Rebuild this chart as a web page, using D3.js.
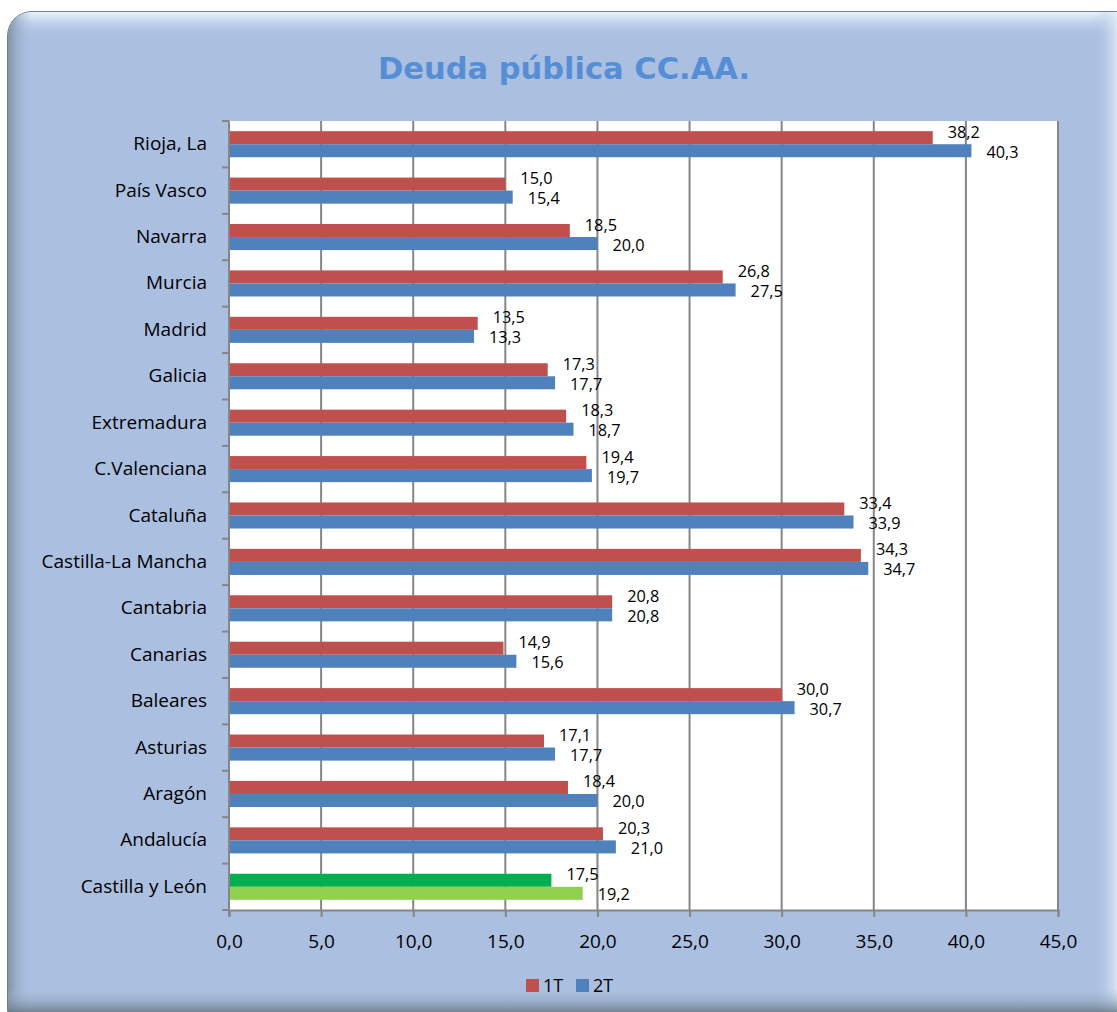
<!DOCTYPE html>
<html><head><meta charset="utf-8">
<script src="https://cdn.jsdelivr.net/npm/d3@7"></script>
<style>html,body{margin:0;padding:0;background:#fff;}svg{display:block;}</style>
</head><body>
<script>
const categories = ["Rioja, La","País Vasco","Navarra","Murcia","Madrid","Galicia","Extremadura","C.Valenciana","Cataluña","Castilla-La Mancha","Cantabria","Canarias","Baleares","Asturias","Aragón","Andalucía","Castilla y León"];
const series1T = [38.2,15.0,18.5,26.8,13.5,17.3,18.3,19.4,33.4,34.3,20.8,14.9,30.0,17.1,18.4,20.3,17.5];
const series2T = [40.3,15.4,20.0,27.5,13.3,17.7,18.7,19.7,33.9,34.7,20.8,15.6,30.7,17.7,20.0,21.0,19.2];
const seriesNames = ["1T","2T"];
const xTicks = [0,5,10,15,20,25,30,35,40,45];
const highlight = "Castilla y León";

const W=1117,H=1012;
const fontUI = "'Open Sans', Carlito, Calibri, sans-serif";
const svg=d3.select("body").append("svg").attr("width",W).attr("height",H);
const defs=svg.append("defs");
function lg(id,x1,y1,x2,y2,stops){const g=defs.append("linearGradient").attr("id",id).attr("x1",x1).attr("y1",y1).attr("x2",x2).attr("y2",y2);stops.forEach(s=>g.append("stop").attr("offset",s[0]).attr("stop-color",s[1]).attr("stop-opacity",s[2]===undefined?1:s[2]));}
lg("gTop",0,0,0,1,[[0,"#eaf6ff"],[1,"#abbfe0",0]]);
lg("gLeft",0,0,1,0,[[0,"#7f96a6"],[1,"#abbfe0",0]]);
lg("gRight",0,0,1,0,[[0,"#abbfe0",0],[1,"#f2fbff"]]);
lg("gBot",0,0,0,1,[[0,"#abbfe0",0],[1,"#52646a"]]);
defs.append("clipPath").attr("id","frameClip").append("rect").attr("x",8).attr("y",12).attr("width",1130).attr("height",1020).attr("rx",24);

// frame
svg.append("rect").attr("x",7).attr("y",11).attr("width",1132).attr("height",1022).attr("rx",25).attr("fill","#6d8187");
const fg=svg.append("g").attr("clip-path","url(#frameClip)");
fg.append("rect").attr("x",8).attr("y",12).attr("width",1130).attr("height",1020).attr("fill","#abbfe0");
fg.append("rect").attr("x",8).attr("y",12).attr("width",1130).attr("height",26).attr("fill","url(#gTop)");
fg.append("rect").attr("x",8).attr("y",12).attr("width",24).attr("height",1020).attr("fill","url(#gLeft)");
fg.append("rect").attr("x",1093).attr("y",12).attr("width",30).attr("height",1020).attr("fill","url(#gRight)");
fg.append("rect").attr("x",8).attr("y",988).attr("width",1130).attr("height",30).attr("fill","url(#gBot)");

// title
svg.append("text").attr("x",564).attr("y",79).attr("text-anchor","middle")
 .attr("font-family","'DejaVu Sans', Verdana, sans-serif").attr("font-weight","bold").attr("font-size",30.5)
 .attr("fill","#558ed5").text("Deuda pública CC.AA.");

const m={l:229,r:1058,t:121,b:910};
const x=d3.scaleLinear().domain([0,45]).range([m.l,m.r]);
const y=d3.scaleBand().domain(categories).range([m.t,m.b]).paddingInner(0).paddingOuter(0);
const inner=d3.scaleBand().domain(seriesNames).range([0,y.bandwidth()]).paddingInner(0).paddingOuter(0.78);

svg.append("rect").attr("x",m.l).attr("y",m.t).attr("width",m.r-m.l).attr("height",m.b-m.t).attr("fill","#fff");

// gridlines + x axis
const xa=svg.append("g").attr("transform",`translate(0,${m.b})`)
 .call(d3.axisBottom(x).tickValues(xTicks).tickSize(7).tickFormat(d=>d3.format(".1f")(d).replace(".",",")));
xa.select(".domain").attr("stroke","#868686").attr("stroke-width",2);
xa.selectAll(".tick line").attr("stroke","#868686").attr("stroke-width",2);
xa.selectAll(".tick text").attr("font-family",fontUI).attr("font-size",19).attr("fill","#000").attr("y",38).attr("dy",null);
svg.append("g").selectAll("line").data(xTicks.filter(d=>d>0)).join("line")
 .attr("x1",d=>x(d)).attr("x2",d=>x(d)).attr("y1",m.t).attr("y2",m.b).attr("stroke","#868686").attr("stroke-width",2);

// y axis
const bounds=categories.map(c=>y(c)).concat([m.b]);
svg.append("g").selectAll("line").data(bounds).join("line")
 .attr("x1",m.l-7).attr("x2",m.l).attr("y1",d=>d).attr("y2",d=>d).attr("stroke","#868686").attr("stroke-width",2);
svg.append("line").attr("x1",m.l).attr("x2",m.l).attr("y1",m.t).attr("y2",m.b+7).attr("stroke","#868686").attr("stroke-width",2);
svg.append("g").selectAll("text").data(categories).join("text")
 .attr("x",207).attr("y",d=>y(d)+y.bandwidth()/2+6).attr("text-anchor","end")
 .attr("font-family",fontUI).attr("font-size",19).attr("fill","#000").text(d=>d);

const data=[];
categories.forEach((c,i)=>{data.push({c,s:"1T",v:series1T[i]});data.push({c,s:"2T",v:series2T[i]});});
const color=d=>d.c===highlight?(d.s==="1T"?"#00b050":"#92d050"):(d.s==="1T"?"#c0504d":"#4f81bd");
svg.append("g").selectAll("rect").data(data).join("rect")
 .attr("x",x(0)+1).attr("y",d=>y(d.c)+inner(d.s)).attr("width",d=>x(d.v)-x(0)-1).attr("height",inner.bandwidth())
 .attr("fill",color);
svg.append("g").selectAll("text").data(data).join("text")
 .attr("x",d=>x(d.v)+15).attr("y",d=>y(d.c)+inner(d.s)+inner.bandwidth()/2+(d.s==="1T"?-6:1)+6)
 .attr("font-family",fontUI).attr("font-size",16.3).attr("fill","#000")
 .text(d=>d3.format(".1f")(d.v).replace(".",","));

// legend
const leg=svg.append("g").attr("transform","translate(526,979)");
seriesNames.forEach((s,i)=>{
  const g=leg.append("g").attr("transform",`translate(${i*50},0)`);
  g.append("rect").attr("width",13).attr("height",13).attr("fill",s==="1T"?"#c0504d":"#4f81bd");
  g.append("text").attr("x",17).attr("y",13).attr("font-family",fontUI).attr("font-size",18).attr("fill","#000").text(s);
});
</script>
</body></html>
